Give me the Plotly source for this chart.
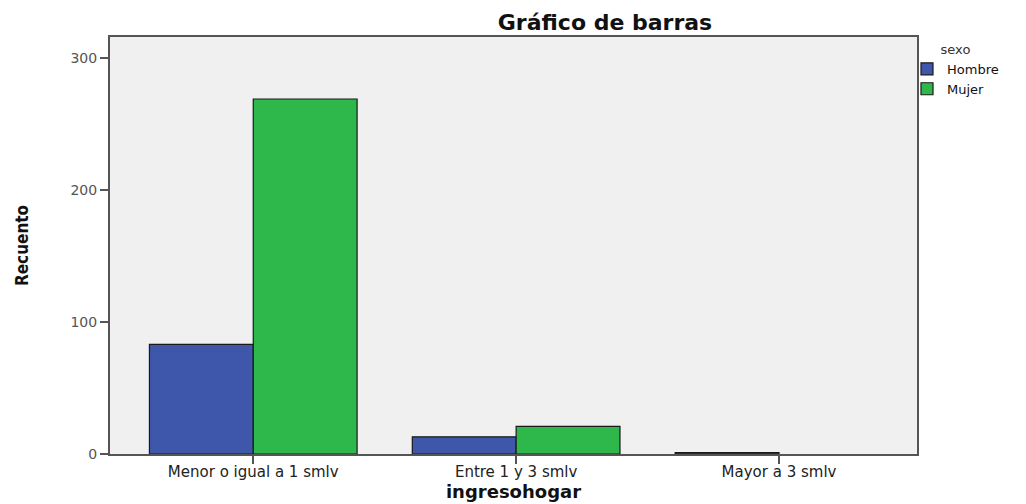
import plotly.graph_objects as go

categories = ["Menor o igual a 1 smlv", "Entre 1 y 3 smlv", "Mayor a 3 smlv"]
hombre = [83, 13, 1]
mujer = [269, 21, 0]
y_ticks = [0, 100, 200, 300]

W, H = 1026, 504
FONT = "DejaVu Sans, Verdana, sans-serif"

fig = go.Figure()
fig.add_trace(go.Bar(name="Hombre", x=categories, y=hombre,
                     marker=dict(color="#3E57AB", line=dict(color="#1a1a1a", width=1.2))))
fig.add_trace(go.Bar(name="Mujer", x=categories, y=mujer,
                     marker=dict(color="#2EB84B", line=dict(color="#1a1a1a", width=[1.2, 1.2, 0]))))

fig.update_layout(
    width=W, height=H,
    margin=dict(l=110, r=109, t=37, b=50, autoexpand=False),
    paper_bgcolor="white",
    plot_bgcolor="#F0F0F0",
    barmode="group",
    bargap=0.21,
    bargroupgap=0,
    font=dict(family=FONT, size=13, color="#222"),
    title=dict(text="<b>Gráfico de barras</b>", x=605/W, xanchor="center",
               y=1-22/H, yanchor="middle", font=dict(family=FONT, size=22, color="#111")),
    legend=dict(title=dict(text="sexo", side="top center", font=dict(size=13, color="#333")),
                x=907/W, xref="container", xanchor="left",
                y=1-37/H, yref="container", yanchor="top",
                font=dict(family=FONT, size=13, color="#111"), tracegroupgap=0,
                itemwidth=30, bgcolor="rgba(0,0,0,0)"),
    showlegend=True,
)
fig.update_xaxes(
    range=[-0.545, 2.525],
    showline=True, linecolor="#555", linewidth=1.5, mirror=True,
    ticks="outside", ticklen=8, tickcolor="#555", tickwidth=1.5,
    tickfont=dict(family=FONT, size=15, color="#222"),
    ticklabelstandoff=-5,
    showgrid=False,
    title=dict(text="<b>ingresohogar</b>", font=dict(family=FONT, size=18, color="#111"), standoff=6),
)
fig.update_yaxes(
    range=[0, 316],
    tickvals=y_ticks,
    showline=True, linecolor="#555", linewidth=2, mirror=True,
    ticks="outside", ticklen=8, tickcolor="#555", tickwidth=1.5,
    tickfont=dict(family=FONT, size=14, color="#555"),
    showgrid=False, zeroline=False,
    title=dict(text="<b>Recuento</b>",
               font=dict(family="DejaVu Sans Condensed, Liberation Sans Narrow, Arial Narrow, sans-serif",
                         size=17, color="#111"), standoff=38),
)

fig.write_html("out.html", config={"displayModeBar": False},
               post_script="document.body.style.margin='0';document.body.style.overflow='hidden';")
